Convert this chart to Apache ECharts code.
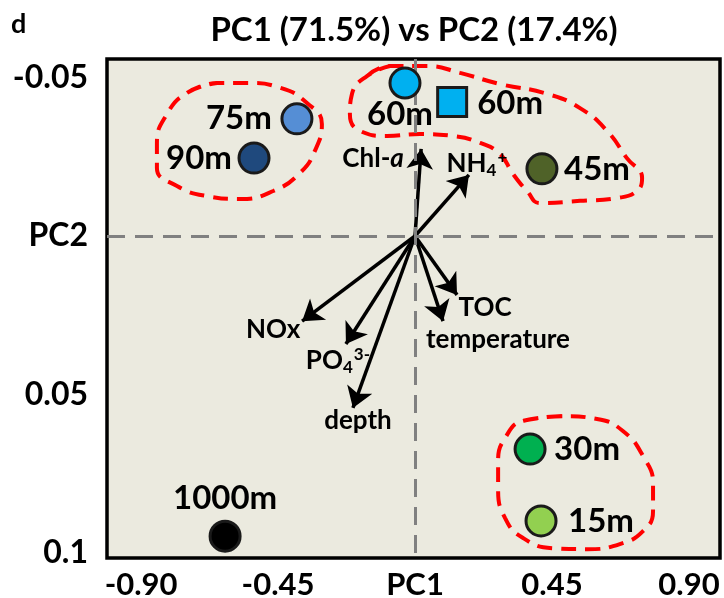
<!DOCTYPE html>
<html>
<head>
<meta charset="utf-8">
<script src="https://cdn.jsdelivr.net/npm/echarts@6/dist/echarts.min.js"></script>
<style>
  html, body { margin: 0; padding: 0; background: #fff; }
  #chart { width: 724px; height: 598px; }
</style>
</head>
<body>
<div id="chart"></div>
<script>
// sample scores
const sampleNames = ["75m", "90m", "60m", "60m", "45m", "30m", "15m", "1000m"];
const samplePC1 = [-0.388, -0.529, -0.033, 0.122, 0.417, 0.378, 0.414, -0.624];
const samplePC2 = [-0.0370, -0.0246, -0.0483, -0.0423, -0.0212, 0.0673, 0.0900, 0.0948];

// variable loadings (arrows from the origin)
const loadingNames = ["Chl-a", "NH4+", "NOx", "PO43-", "depth", "temperature", "TOC"];
const loadingPC1 = [0.020, 0.177, -0.371, -0.227, -0.204, 0.092, 0.138];
const loadingPC2 = [-0.0275, -0.0193, 0.0269, 0.0341, 0.0543, 0.0269, 0.0186];

// hand drawn group outlines (PC1, PC2)
const groupDeepPC1 = [-0.749, -0.650, -0.549, -0.443, -0.355, -0.306, -0.329, -0.378, -0.466, -0.575, -0.683, -0.782, -0.848, -0.848, -0.815];
const groupDeepPC2 = [-0.0452, -0.0483, -0.0483, -0.0468, -0.0420, -0.0354, -0.0269, -0.0199, -0.0142, -0.0117, -0.0126, -0.0158, -0.0215, -0.0291, -0.0385];
const groupMidPC1 = [-0.158, -0.082, 0.039, 0.148, 0.279, 0.434, 0.542, 0.631, 0.696, 0.746, 0.729, 0.664, 0.542, 0.411, 0.368, 0.322, 0.279, 0.214, 0.125, 0.016, -0.092, -0.181, -0.214, -0.207];
const groupMidPC2 = [-0.0505, -0.0537, -0.0537, -0.0515, -0.0480, -0.0449, -0.0404, -0.0332, -0.0246, -0.0183, -0.0142, -0.0120, -0.0111, -0.0104, -0.0142, -0.0196, -0.0259, -0.0294, -0.0316, -0.0322, -0.0316, -0.0332, -0.0385, -0.0449];
const groupSurfPC1 = [0.355, 0.486, 0.598, 0.683, 0.749, 0.782, 0.782, 0.749, 0.673, 0.565, 0.453, 0.355, 0.296, 0.273, 0.273, 0.296];
const groupSurfPC2 = [0.0584, 0.0569, 0.0578, 0.0616, 0.0695, 0.0783, 0.0869, 0.0932, 0.0973, 0.0989, 0.0986, 0.0954, 0.0891, 0.0796, 0.0711, 0.0638];

// tick labels
const xTickValues = [-0.9, -0.45, 0, 0.45, 0.9];
const xTickLabels = ["-0.90", "-0.45", "PC1", "0.45", "0.90"];
const yTickValues = [-0.05, 0, 0.05, 0.1];
const yTickLabels = ["-0.05", "PC2", "0.05", "0.1"];

const FONT = "Lato";

// marker look per sample
const sampleLook = [
  { color: "#558ED5", symbol: "circle", offset: [-58, 0] },
  { color: "#1F497D", symbol: "circle", offset: [-55, 0] },
  { color: "#00B0F0", symbol: "circle", offset: [-5, 31] },
  { color: "#00B0F0", symbol: "rect", offset: [58, 1] },
  { color: "#4F6228", symbol: "circle", offset: [55, 0] },
  { color: "#00B050", symbol: "circle", offset: [57, 0] },
  { color: "#92D050", symbol: "circle", offset: [60, 0] },
  { color: "#000000", symbol: "circle", offset: [0, -38] }
];

// label placement around each arrow tip
const loadingLook = {
  "Chl-a": { offset: [-48, 10], text: "{n|Chl-}{i|a}" },
  "NH4+": { offset: [8, -11], text: "{n|NH}{sub|4}{sup|+}" },
  "NOx": { offset: [-29, 8], text: "{n|NOx}" },
  "PO43-": { offset: [-8, 17], text: "{n|PO}{sub|4}{sup|3-}" },
  "depth": { offset: [5, 13], text: "{n|depth}" },
  "temperature": { offset: [55, 18], text: "{n|temperature}" },
  "TOC": { offset: [28, 13], text: "{n|TOC}" }
};

const closeLoop = (xs, ys) => {
  const pts = xs.map((x, i) => [x, ys[i]]);
  pts.push(pts[0], pts[1]);
  return pts;
};

const outlineSeries = (data) => ({
  type: "line",
  data,
  smooth: 0.5,
  symbol: "none",
  silent: true,
  z: 2,
  lineStyle: { color: "#FF0000", width: 4, type: [15, 9] }
});

const chart = echarts.init(document.getElementById("chart"));

chart.setOption({
  animation: false,
  backgroundColor: "#ffffff",
  textStyle: { fontFamily: FONT },
  graphic: [
    {
      type: "text", left: 11, top: 11,
      style: { text: "d", font: "bold 27px " + FONT, fill: "#000" }
    },
    {
      type: "text", x: 414, y: 30,
      style: {
        text: "PC1 (71.5%) vs PC2 (17.4%)", font: "bold 33px " + FONT,
        fill: "#000", align: "center", verticalAlign: "middle"
      }
    }
  ],
  grid: {
    left: 107, right: 4, top: 59, bottom: 40,
    show: true, backgroundColor: "#EBEADF", borderColor: "#000", borderWidth: 3.5,
    outerBoundsMode: "none"
  },
  xAxis: {
    type: "value",
    min: -1.012,
    max: 1.002,
    axisLine: { show: false },
    axisTick: { show: false },
    splitLine: { show: false },
    axisLabel: {
      customValues: xTickValues,
      margin: 11,
      color: "#000",
      fontWeight: "bold",
      fontSize: 31,
      fontFamily: FONT,
      formatter: (v) => {
        const i = xTickValues.findIndex((t) => Math.abs(t - v) < 1e-6);
        return i >= 0 ? xTickLabels[i] : "";
      }
    }
  },
  yAxis: {
    type: "value",
    inverse: true,
    min: -0.0559,
    max: 0.1017,
    axisLine: { show: false },
    axisTick: { show: false },
    splitLine: { show: false },
    axisLabel: {
      customValues: yTickValues,
      margin: 19,
      color: "#000",
      fontWeight: "bold",
      fontSize: 32,
      fontFamily: FONT,
      formatter: (v) => {
        const i = yTickValues.findIndex((t) => Math.abs(t - v) < 1e-6);
        return i >= 0 ? yTickLabels[i] : "";
      }
    }
  },
  series: [
    {
      ...outlineSeries(closeLoop(groupDeepPC1, groupDeepPC2)),
      markLine: {
        silent: true,
        symbol: "none",
        label: { show: false },
        lineStyle: { color: "#808080", width: 3, type: [18, 10] },
        data: [{ xAxis: 0 }, { yAxis: 0 }]
      }
    },
    outlineSeries(closeLoop(groupMidPC1, groupMidPC2)),
    outlineSeries(closeLoop(groupSurfPC1, groupSurfPC2)),
    {
      type: "lines",
      coordinateSystem: "cartesian2d",
      z: 3,
      silent: true,
      symbol: ["none", "arrow"],
      symbolSize: 20,
      lineStyle: { color: "#000", width: 3.5, opacity: 1 },
      data: loadingNames.map((n, i) => ({ coords: [[0, 0], [loadingPC1[i], loadingPC2[i]]] }))
    },
    {
      type: "scatter",
      z: 4,
      silent: true,
      symbolSize: 1,
      itemStyle: { color: "rgba(0,0,0,0)" },
      data: loadingNames.map((n, i) => ({
        value: [loadingPC1[i], loadingPC2[i]],
        label: {
          show: true,
          position: "inside",
          offset: loadingLook[n].offset,
          formatter: loadingLook[n].text,
          color: "#000",
          textBorderWidth: 0,
          opacity: 1,
          rich: {
            n: { fontSize: 26, fontWeight: "bold", fontFamily: FONT, color: "#000", lineHeight: 30 },
            i: { fontSize: 26, fontWeight: "bold", fontStyle: "italic", fontFamily: FONT, color: "#000", lineHeight: 30 },
            sub: { fontSize: 17, fontWeight: "bold", fontFamily: FONT, color: "#000", verticalAlign: "bottom", lineHeight: 17, padding: [14, 0, 0, 0] },
            sup: { fontSize: 17, fontWeight: "bold", fontFamily: FONT, color: "#000", verticalAlign: "top", lineHeight: 17, padding: [0, 0, 14, 1] }
          }
        }
      }))
    },
    {
      type: "scatter",
      z: 5,
      silent: true,
      data: sampleNames.map((n, i) => ({
        value: [samplePC1[i], samplePC2[i]],
        symbol: sampleLook[i].symbol,
        symbolSize: sampleLook[i].symbol === "rect" ? 29 : 30,
        itemStyle: { color: sampleLook[i].color, borderColor: "#1a1a1a", borderWidth: 3, opacity: 1 },
        label: {
          show: true,
          position: "inside",
          offset: sampleLook[i].offset,
          formatter: n,
          color: "#000",
          fontSize: 33,
          fontWeight: "bold",
          fontFamily: FONT
        }
      }))
    }
  ]
});
</script>
</body>
</html>
